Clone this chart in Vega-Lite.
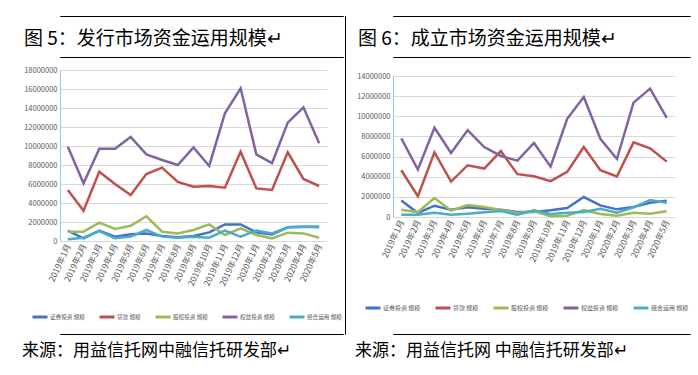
{
  "$schema": "https://vega.github.io/schema/vega-lite/v6.json",
  "padding": {"left": 13, "top": 15, "right": 0, "bottom": 0},
  "config": {
    "view": {"stroke": null},
    "font": "Noto Sans CJK SC",
    "title": {"fontWeight": "normal", "color": "#000000", "font": "Noto Sans CJK SC"}
  },
  "datasets": {
    "fa": [
      {"month": "2019年1月", "证券投资 规模": 1090000, "贷款 规模": 5370000, "股权投资 规模": 980000, "权益投资 规模": 9930000, "组合运用 规模": 180000},
      {"month": "2019年2月", "证券投资 规模": 280000, "贷款 规模": 3190000, "股权投资 规模": 980000, "权益投资 规模": 6070000, "组合运用 规模": 350000},
      {"month": "2019年3月", "证券投资 规模": 1090000, "贷款 规模": 7300000, "股权投资 规模": 1930000, "权益投资 规模": 9720000, "组合运用 规模": 1050000},
      {"month": "2019年4月", "证券投资 规模": 460000, "贷款 规模": 6000000, "股权投资 规模": 1260000, "权益投资 规模": 9720000, "组合运用 规模": 280000},
      {"month": "2019年5月", "证券投资 规模": 700000, "贷款 规模": 4840000, "股权投资 规模": 1610000, "权益投资 规模": 10950000, "组合运用 规模": 460000},
      {"month": "2019年6月", "证券投资 规模": 800000, "贷款 规模": 7050000, "股权投资 规模": 2600000, "权益投资 规模": 9120000, "组合运用 规模": 1160000},
      {"month": "2019年7月", "证券投资 规模": 530000, "贷款 规模": 7720000, "股权投资 规模": 980000, "权益投资 规模": 8530000, "组合运用 规模": 460000},
      {"month": "2019年8月", "证券投资 规模": 390000, "贷款 规模": 6210000, "股权投资 规模": 800000, "权益投资 规模": 8000000, "组合运用 规模": 350000},
      {"month": "2019年9月", "证券投资 规模": 530000, "贷款 规模": 5720000, "股权投资 规模": 1160000, "权益投资 规模": 9860000, "组合运用 规模": 460000},
      {"month": "2019年10月", "证券投资 规模": 910000, "贷款 规模": 5790000, "股权投资 规模": 1750000, "权益投资 规模": 7900000, "组合运用 规模": 350000},
      {"month": "2019年11月", "证券投资 规模": 1750000, "贷款 规模": 5610000, "股权投资 规模": 630000, "权益投资 规模": 13440000, "组合运用 规模": 1090000},
      {"month": "2019年12月", "证券投资 规模": 1750000, "贷款 规模": 9400000, "股权投资 规模": 1330000, "权益投资 规模": 16070000, "组合运用 规模": 460000},
      {"month": "2020年1月", "证券投资 规模": 910000, "贷款 规模": 5540000, "股权投资 规模": 630000, "权益投资 规模": 9120000, "组合运用 规模": 1090000},
      {"month": "2020年2月", "证券投资 规模": 700000, "贷款 规模": 5370000, "股权投资 规模": 280000, "权益投资 规模": 8200000, "组合运用 规模": 800000},
      {"month": "2020年3月", "证券投资 规模": 1440000, "贷款 规模": 9330000, "股权投资 规模": 880000, "权益投资 规模": 12460000, "组合运用 规模": 1440000},
      {"month": "2020年4月", "证券投资 规模": 1510000, "贷款 规模": 6530000, "股权投资 规模": 800000, "权益投资 规模": 14070000, "组合运用 规模": 1510000},
      {"month": "2020年5月", "证券投资 规模": 1510000, "贷款 规模": 5790000, "股权投资 规模": 350000, "权益投资 规模": 10280000, "组合运用 规模": 1440000}
    ],
    "cl": [
      {"month": "2019年1月", "证券投资 规模": 1650000, "贷款 规模": 4640000, "股权投资 规模": 720000, "权益投资 规模": 7800000, "组合运用 规模": 230000},
      {"month": "2019年2月", "证券投资 规模": 400000, "贷款 规模": 2070000, "股权投资 规模": 490000, "权益投资 规模": 4710000, "组合运用 规模": 230000},
      {"month": "2019年3月", "证券投资 规模": 1120000, "贷款 规模": 6420000, "股权投资 规模": 1880000, "权益投资 规模": 8860000, "组合运用 规模": 430000},
      {"month": "2019年4月", "证券投资 规模": 720000, "贷款 规模": 3520000, "股权投资 规模": 630000, "权益投资 规模": 6360000, "组合运用 规模": 230000},
      {"month": "2019年5月", "证券投资 规模": 960000, "贷款 规模": 5140000, "股权投资 规模": 1190000, "权益投资 规模": 8630000, "组合运用 规模": 330000},
      {"month": "2019年6月", "证券投资 规模": 820000, "贷款 规模": 4810000, "股权投资 规模": 990000, "权益投资 规模": 6950000, "组合运用 规模": 460000},
      {"month": "2019年7月", "证券投资 规模": 720000, "贷款 规模": 6550000, "股权投资 规模": 690000, "权益投资 规模": 6060000, "组合运用 规模": 590000},
      {"month": "2019年8月", "证券投资 规模": 490000, "贷款 规模": 4250000, "股权投资 规模": 400000, "权益投资 规模": 5600000, "组合运用 规模": 230000},
      {"month": "2019年9月", "证券投资 规模": 490000, "贷款 规模": 4050000, "股权投资 规模": 560000, "权益投资 规模": 7350000, "组合运用 规模": 660000},
      {"month": "2019年10月", "证券投资 规模": 660000, "贷款 规模": 3560000, "股权投资 规模": 70000, "权益投资 规模": 5000000, "组合运用 规模": 300000},
      {"month": "2019年11月", "证券投资 规模": 890000, "贷款 规模": 4480000, "股权投资 规模": 130000, "权益投资 规模": 9750000, "组合运用 规模": 430000},
      {"month": "2019年12月", "证券投资 规模": 1980000, "贷款 规模": 6950000, "股权投资 规模": 690000, "权益投资 规模": 11920000, "组合运用 规模": 490000},
      {"month": "2020年1月", "证券投资 规模": 1150000, "贷款 规模": 4640000, "股权投资 规模": 300000, "权益投资 规模": 7770000, "组合运用 规模": 820000},
      {"month": "2020年2月", "证券投资 规模": 760000, "贷款 规模": 4020000, "股权投资 规模": 130000, "权益投资 规模": 5760000, "组合运用 规模": 430000},
      {"month": "2020年3月", "证券投资 规模": 990000, "贷款 规模": 7410000, "股权投资 规模": 430000, "权益投资 规模": 11360000, "组合运用 规模": 960000},
      {"month": "2020年4月", "证券投资 规模": 1420000, "贷款 规模": 6820000, "股权投资 规模": 330000, "权益投资 规模": 12750000, "组合运用 规模": 1680000},
      {"month": "2020年5月", "证券投资 规模": 1610000, "贷款 规模": 5500000, "股权投资 规模": 560000, "权益投资 规模": 9850000, "组合运用 规模": 1420000}
    ]
  },
  "spacing": 0,
  "resolve": {"scale": {"color": "independent"}, "legend": {"color": "independent"}},
  "hconcat": [
    {
      "spacing": 8,
      "resolve": {"scale": {"color": "independent"}, "legend": {"color": "independent"}},
      "vconcat": [
        {
          "spacing": 12,
          "vconcat": [
            {"data": {"values": []}, "mark": "point", "width": 283, "height": 0.001, "view": {"stroke": "#000000", "strokeWidth": 1}},
            {"data": {"values": []}, "mark": "point", "width": 283, "height": 0.001, "view": {"stroke": "#000000", "strokeWidth": 1},
             "title": {"text": "图 5：发行市场资金运用规模↵", "orient": "top", "anchor": "start", "frame": "group", "offset": 8, "dx": -36, "fontSize": 19}}
          ]
        },
        {
          "data": {"name": "fa"},
          "transform": [{"fold": ["证券投资 规模", "贷款 规模", "股权投资 规模", "权益投资 规模", "组合运用 规模"], "as": ["series", "value"]}],
          "width": 267,
          "height": 171,
          "mark": {"type": "line", "strokeWidth": 2.5},
          "encoding": {
            "x": {"field": "month", "type": "ordinal", "sort": null,
                  "axis": {"title": null, "labelAngle": -65, "labelAlign": "right", "labelBaseline": "middle", "labelFontSize": 8.5, "labelColor": "#595959", "ticks": false, "domain": false, "grid": false, "labelPadding": 3}},
            "y": {"field": "value", "type": "quantitative", "scale": {"domain": [0, 18000000], "nice": false},
                  "axis": {"title": " ", "titleFontSize": 1, "titlePadding": 9, "values": [0, 2000000, 4000000, 6000000, 8000000, 10000000, 12000000, 14000000, 16000000, 18000000], "format": "d", "labelFontSize": 7.5, "labelColor": "#595959", "ticks": false, "domain": true, "domainColor": "#9DC3E6", "domainWidth": 1, "grid": true, "gridColor": "#D9D9D9", "labelPadding": 3}},
            "color": {"field": "series", "type": "nominal",
                      "scale": {"domain": ["证券投资 规模", "贷款 规模", "股权投资 规模", "权益投资 规模", "组合运用 规模"], "range": ["#4472C4", "#C0504D", "#9BBB59", "#8064A2", "#4BACC6"]},
                      "legend": {"title": null, "orient": "none", "legendX": -30.5, "legendY": 236.5, "direction": "horizontal", "symbolType": "stroke", "symbolSize": 225, "symbolStrokeWidth": 3, "labelFontSize": 5.6, "labelColor": "#595959", "labelOffset": 1, "columnPadding": 8, "padding": 1.5}}
          }
        },
        {"data": {"values": []}, "mark": "point", "width": 283, "height": 0.001, "view": {"stroke": "#000000", "strokeWidth": 1},
         "title": {"text": "来源：用益信托网中融信托研发部↵", "orient": "bottom", "anchor": "start", "frame": "group", "offset": 9, "dx": -38, "fontSize": 17}}
      ]
    },
    {"data": {"values": []}, "mark": "point", "width": 0.001, "height": 318, "view": {"stroke": "#000000", "strokeWidth": 1}},
    {
      "spacing": 14,
      "resolve": {"scale": {"color": "independent"}, "legend": {"color": "independent"}},
      "vconcat": [
        {
          "spacing": 12,
          "vconcat": [
            {"data": {"values": []}, "mark": "point", "width": 297, "height": 0.001, "view": {"stroke": "#000000", "strokeWidth": 1}},
            {"data": {"values": []}, "mark": "point", "width": 297, "height": 0.001, "view": {"stroke": "#000000", "strokeWidth": 1},
             "title": {"text": "图 6：成立市场资金运用规模↵", "orient": "top", "anchor": "start", "frame": "group", "offset": 8, "dx": -35, "fontSize": 19}}
          ]
        },
        {
          "data": {"name": "cl"},
          "transform": [{"fold": ["证券投资 规模", "贷款 规模", "股权投资 规模", "权益投资 规模", "组合运用 规模"], "as": ["series", "value"]}],
          "width": 282,
          "height": 141,
          "mark": {"type": "line", "strokeWidth": 2.5},
          "encoding": {
            "x": {"field": "month", "type": "ordinal", "sort": null,
                  "axis": {"title": null, "labelAngle": -65, "labelAlign": "right", "labelBaseline": "middle", "labelFontSize": 8.5, "labelColor": "#595959", "ticks": false, "domain": false, "grid": false, "labelPadding": 3}},
            "y": {"field": "value", "type": "quantitative", "scale": {"domain": [0, 14000000], "nice": false},
                  "axis": {"title": " ", "titleFontSize": 1, "titlePadding": 9, "values": [0, 2000000, 4000000, 6000000, 8000000, 10000000, 12000000, 14000000], "format": "d", "labelFontSize": 7.5, "labelColor": "#595959", "ticks": false, "domain": true, "domainColor": "#9DC3E6", "domainWidth": 1, "grid": true, "gridColor": "#D9D9D9", "labelPadding": 3}},
            "color": {"field": "series", "type": "nominal",
                      "scale": {"domain": ["证券投资 规模", "贷款 规模", "股权投资 规模", "权益投资 规模", "组合运用 规模"], "range": ["#4472C4", "#C0504D", "#9BBB59", "#8064A2", "#4BACC6"]},
                      "legend": {"title": null, "orient": "none", "legendX": -33.5, "legendY": 218.5, "direction": "horizontal", "symbolType": "stroke", "symbolSize": 225, "symbolStrokeWidth": 3, "labelFontSize": 6, "labelColor": "#595959", "labelOffset": 1, "columnPadding": 8, "padding": 4.5}}
          }
        },
        {"data": {"values": []}, "mark": "point", "width": 297, "height": 0.001, "view": {"stroke": "#000000", "strokeWidth": 1},
         "title": {"text": "来源：用益信托网 中融信托研发部↵", "orient": "bottom", "anchor": "start", "frame": "group", "offset": 9, "dx": -38, "fontSize": 17}}
      ]
    }
  ]
}
